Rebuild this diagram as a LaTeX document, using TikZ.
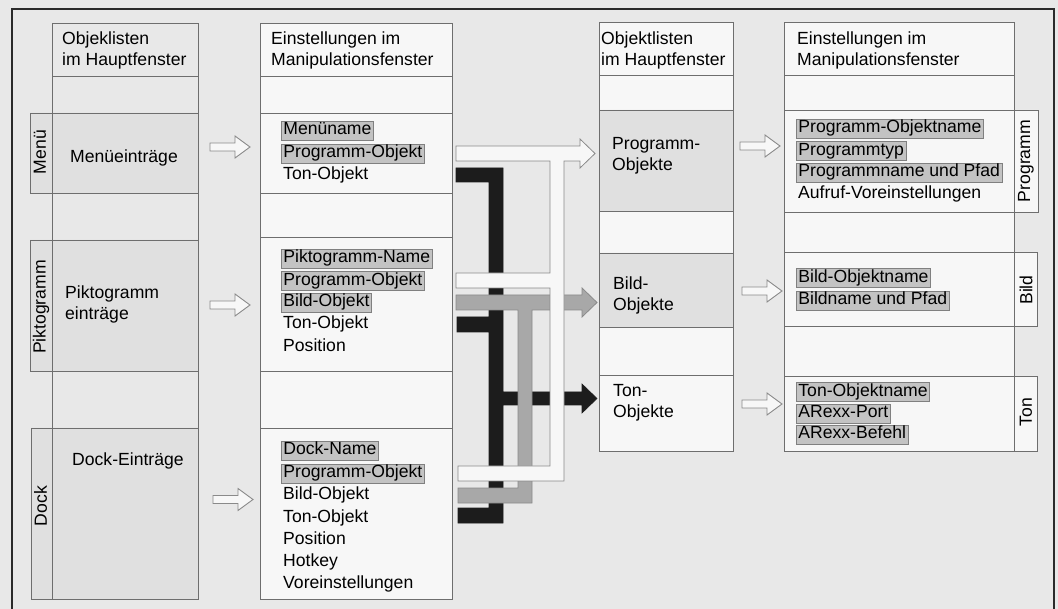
\documentclass[tikz,border=0pt]{standalone}
\usepackage{fontspec}
\setmainfont{Liberation Sans}
\definecolor{paper}{HTML}{E8E8E8}
\definecolor{cellw}{HTML}{F7F7F7}
\definecolor{cellg}{HTML}{E0E0E0}
\definecolor{hlfill}{HTML}{C3C3C3}
\definecolor{hlline}{HTML}{808080}
\definecolor{boxline}{HTML}{6E6E6E}
\definecolor{barblack}{HTML}{1C1C1C}
\definecolor{bargray}{HTML}{A8A8A8}
\definecolor{barline}{HTML}{8A8A8A}
\definecolor{frame}{HTML}{2A2A2A}
\begin{document}
\begin{tikzpicture}[x=1pt,y=-1pt,
  font=\fontsize{17.6}{22}\selectfont,
  box/.style={draw=boxline, line width=0.9pt},
  lbl/.style={anchor=base west, inner sep=0pt},
  item/.style={anchor=base west, inner xsep=2pt, inner ysep=1.5pt, text height=12.5pt, text depth=3.5pt},
  hl/.style={item, fill=hlfill, draw=hlline, line width=0.8pt},
  tab/.style={rotate=90, inner sep=0pt},
  harrow/.pic={\draw[draw=barline, fill=cellw, line width=0.9pt] (0,-4)--(25,-4)--(25,-11)--(40,0)--(25,11)--(25,4)--(0,4)--cycle;}
]
\fill[paper] (0,0) rectangle (1058,609);
\useasboundingbox (0,0) rectangle (1058,609);
\draw[frame, line width=1.8pt] (12,609) -- (12,9) -- (1054,9) -- (1054,609);

% ---------- column 1
\fill[cellg] (52,113) rectangle (198,193) (52,240) rectangle (198,371) (52,428) rectangle (198,599)
  (30,113) rectangle (52,193) (30,240) rectangle (52,371) (31,428) rectangle (52,599);
\draw[box] (52,23) rectangle (198,599);
\draw[box] (52,76)--(198,76) (52,113)--(198,113) (52,193)--(198,193) (52,240)--(198,240)
  (52,371)--(198,371) (52,428)--(198,428);
\draw[box] (30,113) rectangle (52,193) (30,240) rectangle (52,371) (31,428) rectangle (52,599);

% ---------- column 2
\fill[cellw] (260,23) rectangle (452,599);
\draw[box] (260,23) rectangle (452,599);
\draw[box] (260,76)--(452,76) (260,113)--(452,113) (260,193)--(452,193) (260,237)--(452,237)
  (260,371)--(452,371) (260,428)--(452,428);

% ---------- column 3
\fill[cellw] (599,22) rectangle (733,451);
\fill[cellg] (599,110) rectangle (733,211) (599,253) rectangle (733,327);
\draw[box] (599,22) rectangle (733,451);
\draw[box] (599,75)--(733,75) (599,110)--(733,110) (599,211)--(733,211) (599,253)--(733,253)
  (599,327)--(733,327) (599,375)--(733,375);

% ---------- column 4
\fill[cellw] (784,22) rectangle (1014,451) (1014,110) rectangle (1038,212) (1014,252) rectangle (1037,326) (1014,376) rectangle (1037,451);
\draw[box] (784,22) rectangle (1014,451);
\draw[box] (784,75)--(1014,75) (784,110)--(1014,110) (784,212)--(1014,212) (784,252)--(1014,252)
  (784,326)--(1014,326) (784,376)--(1014,376);
\draw[box] (1014,110) rectangle (1038,212) (1014,252) rectangle (1037,326) (1014,376) rectangle (1037,451);

% ---------- hollow arrows
\pic at (210,147) {harrow};
\pic at (210,305) {harrow};
\pic at (213,499.5) {harrow};
\pic at (740,146) {harrow};
\pic at (742,291) {harrow};
\pic at (742,404) {harrow};

% ---------- bars: black (Ton), gray (Bild), white (Programm)
\filldraw[fill=barblack, draw=barblack, line width=0.6pt]
  (456,168) -- (503,168) -- (503,392) -- (582,392) -- (582,384) -- (597,398.5) -- (582,413)
  -- (582,405) -- (503,405) -- (503,523) -- (458,523) -- (458,508) -- (489,508) -- (489,332)
  -- (457,332) -- (457,317) -- (489,317) -- (489,182) -- (456,182) -- cycle;
\filldraw[fill=bargray, draw=barline, line width=0.8pt]
  (456,295) -- (582,295) -- (582,288) -- (597,302.5) -- (582,317) -- (582,310) -- (532,310)
  -- (532,503) -- (458,503) -- (458,488) -- (518,488) -- (518,310) -- (456,310) -- cycle;
\filldraw[fill=cellw, draw=barline, line width=0.8pt]
  (456,146) -- (580,146) -- (580,139) -- (595,153.5) -- (580,168) -- (580,161) -- (564,161)
  -- (564,481) -- (458,481) -- (458,466) -- (550,466) -- (550,288) -- (456,288) -- (456,273)
  -- (550,273) -- (550,161) -- (456,161) -- cycle;

% ---------- column 1 text
\node[lbl] (h1a) at (62,45) {Objeklisten};
\node[lbl] (h1b) at (62,66) {im Hauptfenster};
\node[lbl] (menu) at (70,163) {Menüeinträge};
\node[lbl] (pika) at (65,299) {Piktogramm};
\node[lbl] (pikb) at (65,320) {einträge};
\node[lbl] (dock) at (72,466) {Dock-Einträge};
\node[tab] (tmenu) at (40,152) {Menü};
\node[tab] (tpik) at (41,307) {Piktogramm};
\node[tab] (tdock) at (40.5,506) {Dock};

% ---------- column 2 text
\node[lbl] (h2a) at (271,45) {Einstellungen im};
\node[lbl] (h2b) at (271,66) {Manipulationsfenster};
\node[hl]   (m1) at (281,135) {Menüname};
\node[hl]   (m2) at (281,158) {Programm-Objekt};
\node[item] (m3) at (281,180) {Ton-Objekt};
\node[hl]   (p1) at (281,263) {Piktogramm-Name};
\node[hl]   (p2) at (281,285.5) {Programm-Objekt};
\node[hl]   (p3) at (281,307) {Bild-Objekt};
\node[item] (p4) at (281,329) {Ton-Objekt};
\node[item] (p5) at (281,352) {Position};
\node[hl]   (d1) at (281,455) {Dock-Name};
\node[hl]   (d2) at (281,478) {Programm-Objekt};
\node[item] (d3) at (281,500) {Bild-Objekt};
\node[item] (d4) at (281,522) {Ton-Objekt};
\node[item] (d5) at (281,544) {Position};
\node[item] (d6) at (281,566) {Hotkey};
\node[item] (d7) at (281,588) {Voreinstellungen};

% ---------- column 3 text
\node[lbl] (h3a) at (601,45) {Objektlisten};
\node[lbl] (h3b) at (601,66) {im Hauptfenster};
\node[lbl] (oprog) at (612,150) {Programm-};
\node[lbl] (oprogb) at (612,171) {Objekte};
\node[lbl] (obild) at (613,290) {Bild-};
\node[lbl] (obildb) at (613,311) {Objekte};
\node[lbl] (oton) at (613,397) {Ton-};
\node[lbl] (otonb) at (613,418) {Objekte};

% ---------- column 4 text
\node[lbl] (h4a) at (797,45) {Einstellungen im};
\node[lbl] (h4b) at (797,66) {Manipulationsfenster};
\node[hl]   (g1) at (796,133) {Programm-Objektname};
\node[hl]   (g2) at (796,155.5) {Programmtyp};
\node[hl]   (g3) at (796,177) {Programmname und Pfad};
\node[item] (g4) at (796,199) {Aufruf-Voreinstellungen};
\node[hl]   (b1) at (796,282.5) {Bild-Objektname};
\node[hl]   (b2) at (796,305) {Bildname und Pfad};
\node[hl]   (t1) at (796,396.5) {Ton-Objektname};
\node[hl]   (t2) at (796,418) {ARexx-Port};
\node[hl]   (t3) at (796,439) {ARexx-Befehl};
\node[tab] (tprog) at (1026,161) {Programm};
\node[tab] (tbild) at (1026,290) {Bild};
\node[tab] (tton) at (1026,412) {Ton};
\end{tikzpicture}
\end{document}
